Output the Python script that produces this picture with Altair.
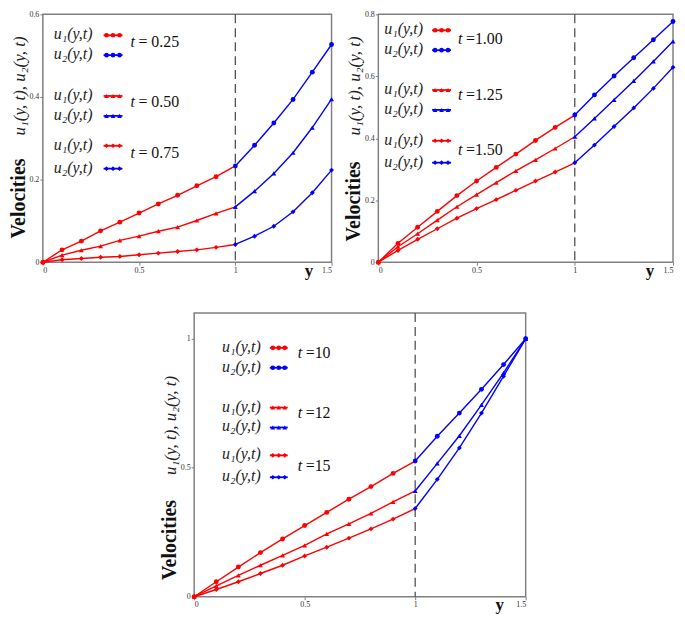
import altair as alt
import pandas as pd

# ---------------- data ----------------
Y_U1 = [0.0, 0.1, 0.2, 0.3, 0.4, 0.5, 0.6, 0.7, 0.8, 0.9, 1.0]
Y_U2 = [1.0, 1.1, 1.2, 1.3, 1.4, 1.5]

T_A = ["0.25", "0.50", "0.75"]
A_U1 = [
    [0, 0.030, 0.051, 0.076, 0.097, 0.119, 0.141, 0.162, 0.185, 0.207, 0.233],
    [0, 0.017, 0.029, 0.039, 0.053, 0.063, 0.075, 0.085, 0.101, 0.118, 0.134],
    [0, 0.006, 0.009, 0.012, 0.014, 0.018, 0.022, 0.026, 0.030, 0.036, 0.043],
]
A_U2 = [
    [0.233, 0.283, 0.337, 0.394, 0.460, 0.527],
    [0.134, 0.172, 0.215, 0.265, 0.326, 0.395],
    [0.043, 0.063, 0.087, 0.122, 0.168, 0.223],
]

T_B = ["1.00", "1.25", "1.50"]
B_U1 = [
    [0, 0.061, 0.113, 0.164, 0.215, 0.262, 0.306, 0.349, 0.393, 0.435, 0.475],
    [0, 0.050, 0.092, 0.136, 0.179, 0.218, 0.257, 0.295, 0.330, 0.367, 0.405],
    [0, 0.038, 0.074, 0.108, 0.142, 0.173, 0.202, 0.232, 0.262, 0.291, 0.321],
]
B_U2 = [
    [0.475, 0.540, 0.601, 0.660, 0.718, 0.777],
    [0.405, 0.464, 0.524, 0.585, 0.648, 0.713],
    [0.321, 0.378, 0.438, 0.498, 0.561, 0.629],
]

T_C = ["10", "12", "15"]
C_U1 = [
    [0, 0.058, 0.115, 0.171, 0.224, 0.276, 0.327, 0.378, 0.427, 0.478, 0.526],
    [0, 0.042, 0.083, 0.122, 0.160, 0.199, 0.244, 0.282, 0.323, 0.368, 0.410],
    [0, 0.028, 0.058, 0.090, 0.122, 0.158, 0.192, 0.227, 0.263, 0.301, 0.342],
]
C_U2 = [
    [0.526, 0.622, 0.712, 0.804, 0.900, 1.0],
    [0.410, 0.517, 0.624, 0.744, 0.868, 1.0],
    [0.342, 0.455, 0.577, 0.712, 0.855, 1.0],
]

X_TICKS = [0, 0.5, 1, 1.5]
A_TICKS = [0, 0.2, 0.4, 0.6]
B_TICKS = [0, 0.2, 0.4, 0.6, 0.8]
C_TICKS = [0, 0.5, 1]

# ---------------- styles ----------------
RED, BLUE = "#ff0000", "#0000ff"
SHAPES = ["circle", "triangle-up", "diamond"]
SERIF = "Liberation Serif"
FRAME = "#808080"


def curve_frames(times, u1, u2):
    lines, pts = [], []
    for i, t in enumerate(times):
        for yv, uv in zip(Y_U1, u1[i]):
            lines.append(dict(y=yv, u=uv, part="u1", grp=f"{t}-1"))
        for yv, uv in zip(Y_U2, u2[i]):
            lines.append(dict(y=yv, u=uv, part="u2", grp=f"{t}-2"))
        for yv, uv in zip(Y_U1[:-1], u1[i][:-1]):
            pts.append(dict(y=yv, u=uv, part="u1", shape=SHAPES[i]))
        for yv, uv in zip(Y_U2, u2[i]):
            pts.append(dict(y=yv, u=uv, part="u2", shape=SHAPES[i]))
    return pd.DataFrame(lines), pd.DataFrame(pts)


def panel(times, u1, u2, ymax, yticks, w, h, leg, titles):
    lines_df, pts_df = curve_frames(times, u1, u2)
    xs = alt.Scale(domain=[0, 1.5], nice=False, zero=False)
    ys = alt.Scale(domain=[0, ymax], nice=False)
    xaxis = alt.Axis(values=X_TICKS, format=".2~f", title="y", titleX=0.92 * w,
                     titleY=13, titleAlign="center", titleBaseline="alphabetic",
                     titleFont=SERIF, titleFontSize=17, titleFontWeight="bold",
                     titleColor="#111", labelFont=SERIF, labelFontSize=8,
                     labelColor="#333", tickColor=FRAME, tickSize=3, domain=False,
                     grid=False, labelPadding=1)
    yaxis = alt.Axis(values=yticks, format=".2~f", title=None, labelFont=SERIF,
                     labelFontSize=8, labelColor="#333", tickColor=FRAME,
                     tickSize=3, domain=False, grid=False, labelPadding=1)
    X = lambda: alt.X("y:Q", scale=xs, axis=xaxis)
    Y = lambda: alt.Y("u:Q", scale=ys, axis=yaxis)
    col = alt.Color("part:N", scale=alt.Scale(domain=["u1", "u2"], range=[RED, BLUE]),
                    legend=None)

    def to_data(px, py):
        return px / w * 1.5, ymax * (1 - py / h)

    # legend pieces (annotation layout in pixels, converted to data units)
    samp_lines, samp_pts, utext, ttext_t, ttext_v = [], [], [], [], []
    for i, (t, (r1, r2, rt)) in enumerate(zip(times, leg["rows"])):
        for part, ry, lab in (("u1", r1, "u\u2081(y,t)"), ("u2", r2, "u\u2082(y,t)")):
            x0, x1 = leg["s"]
            a = to_data(x0, ry + 1)
            b = to_data(x1, ry + 1)
            samp_lines.append(dict(y=a[0], u=a[1], part=part, grp=f"{t}{part}"))
            samp_lines.append(dict(y=b[0], u=b[1], part=part, grp=f"{t}{part}"))
            for px in (x0 + 3, (x0 + x1) / 2, x1 - 3):
                p = to_data(px, ry + 1)
                samp_pts.append(dict(y=p[0], u=p[1], part=part, shape=SHAPES[i]))
            q = to_data(leg["u"], ry)
            utext.append(dict(y=q[0], u=q[1], s=lab))
        q = to_data(leg["t"], rt)
        ttext_t.append(dict(y=q[0], u=q[1], s="t"))
        q = to_data(leg["t"] + 8, rt)
        ttext_v.append(dict(y=q[0], u=q[1], s=leg["fmt"] + t))

    layers = [
        alt.Chart(pd.DataFrame({"y": [1.0]})).mark_rule(
            color="#444", strokeDash=[9, 5], strokeWidth=1.2).encode(x=X()),
        alt.Chart(lines_df).mark_line(strokeWidth=1.4).encode(
            x=X(), y=Y(), color=col, detail="grp:N"),
        alt.Chart(pts_df).mark_point(filled=True, size=24, opacity=1).encode(
            x=X(), y=Y(), color=col, shape=alt.Shape("shape:N", scale=None)),
        alt.Chart(pd.DataFrame(samp_lines)).mark_line(strokeWidth=1.8).encode(
            x=X(), y=Y(), color=col, detail="grp:N"),
        alt.Chart(pd.DataFrame(samp_pts)).mark_point(filled=True, size=22, opacity=1).encode(
            x=X(), y=Y(), color=col, shape=alt.Shape("shape:N", scale=None)),
        alt.Chart(pd.DataFrame(utext)).mark_text(
            align="left", baseline="middle", font=SERIF, fontStyle="italic",
            fontSize=16, color="#222").encode(x=X(), y=Y(), text="s:N"),
        alt.Chart(pd.DataFrame(ttext_t)).mark_text(
            align="left", baseline="middle", font=SERIF, fontStyle="italic",
            fontSize=16, color="#111").encode(x=X(), y=Y(), text="s:N"),
        alt.Chart(pd.DataFrame(ttext_v)).mark_text(
            align="left", baseline="middle", font=SERIF,
            fontSize=16, color="#111").encode(x=X(), y=Y(), text="s:N"),
        alt.Chart(pd.DataFrame({"s": ["Velocities"]})).mark_text(
            angle=270, align="center", baseline="middle", font=SERIF,
            fontWeight="bold", fontSize=20, color="#111").encode(
            x=alt.value(titles["x"]), y=alt.value(titles["vel"]), text="s:N"),
        alt.Chart(pd.DataFrame({"s": ["u\u2081(y, t), u\u2082(y, t)"]})).mark_text(
            angle=270, align="center", baseline="middle", font=SERIF,
            fontStyle="italic", fontSize=17, color="#222").encode(
            x=alt.value(titles["x"] + 1), y=alt.value(titles["u"]), text="s:N"),
    ]
    return alt.layer(*layers).properties(
        width=w, height=h,
        view=alt.ViewBackground(stroke=FRAME, strokeWidth=1.5, fill="white"))


LEG_A = dict(u=11, s=(61, 80), t=88, fmt="= ",
             rows=[(20, 40, 28), (81, 101, 88), (131, 154, 139)])
LEG_B = dict(u=6, s=(54, 73), t=80, fmt="=",
             rows=[(15, 35, 25), (75, 95, 81), (126, 148, 136)])
LEG_C = dict(u=28, s=(76, 94), t=104, fmt="=",
             rows=[(34, 54, 40), (94, 114, 100), (142, 164, 154)])

pA = panel(T_A, A_U1, A_U2, 0.6, A_TICKS, 290, 249, LEG_A,
           dict(x=-24, vel=185, u=72))
pB = panel(T_B, B_U1, B_U2, 0.8, B_TICKS, 296, 249, LEG_B,
           dict(x=-24, vel=188, u=72))
pC = panel(T_C, C_U1, C_U2, 1.1, C_TICKS, 333, 285, LEG_C,
           dict(x=-24, vel=228, u=113))

spacer = alt.Chart(pd.DataFrame({"a": [0]})).mark_point(opacity=0).properties(
    width=152, height=20, view=alt.ViewBackground(stroke="transparent"))

row1 = alt.hconcat(pA, pB, spacing=47, bounds="flush")
row2 = alt.hconcat(spacer, pC, spacing=0, bounds="flush")
chart = alt.vconcat(row1, row2, spacing=32).properties(
    padding={"left": 0, "top": 0, "right": 0, "bottom": 0},
    background="white")

chart.save("out.html", embed_options={"renderer": "svg", "actions": False})
